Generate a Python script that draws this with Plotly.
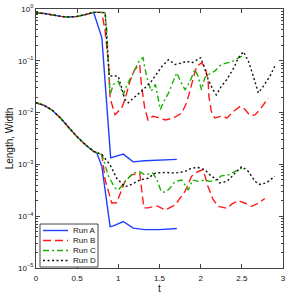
import plotly.graph_objects as go

# ---------------- data ----------------
t_common = [0, 0.1, 0.2, 0.3, 0.4, 0.5, 0.6, 0.7]
len_common = [0.84, 0.82, 0.77, 0.72, 0.70, 0.72, 0.78, 0.86]
wid_common = [1.55e-2, 1.38e-2, 1.10e-2, 7.8e-3, 5.1e-3, 3.4e-3, 2.4e-3, 1.78e-3]

# Run A
tA_len = t_common + [0.80, 0.907, 1.06, 1.18, 1.32, 1.5, 1.71]
lenA = len_common + [0.277, 1.34e-3, 1.58e-3, 1.12e-3, 1.18e-3, 1.2e-3, 1.25e-3]
tA_wid = t_common + [0.74, 0.80, 0.90, 0.94, 1.06, 1.18, 1.32, 1.5, 1.71]
widA = wid_common + [1.65e-3, 9.1e-4, 6.3e-5, 6.5e-5, 7.9e-5, 5.9e-5, 5.5e-5, 5.5e-5, 5.8e-5]

# Run B
tB_len = t_common + [0.80, 0.84, 0.88, 0.90, 0.96, 1.04, 1.08, 1.14, 1.20, 1.26, 1.28,
                     1.32, 1.36, 1.42, 1.49, 1.57, 1.67, 1.77, 1.83, 1.87, 1.91, 1.95,
                     2.01, 2.05, 2.09, 2.10, 2.13, 2.17, 2.25, 2.32, 2.40, 2.48, 2.54,
                     2.60, 2.66, 2.72, 2.78, 2.82]
lenB = len_common + [0.86, 0.37, 0.091, 0.019, 9.1e-3, 1.23e-2, 1.78e-2, 0.040, 0.068,
                     0.085, 0.035, 0.0123, 7.2e-3, 8.5e-3, 8.0e-3, 7.2e-3, 7.9e-3, 9.8e-3,
                     0.0155, 0.0275, 0.050, 0.078, 0.091, 0.078, 0.044, 0.0204, 0.0105,
                     7.9e-3, 8.5e-3, 7.9e-3, 0.0105, 0.0132, 0.0115, 8.7e-3, 9.0e-3,
                     0.0115, 0.0155, 0.019]
tB_wid = t_common + [0.80, 0.84, 0.92, 0.98, 1.08, 1.16, 1.26, 1.31, 1.36, 1.47, 1.57,
                     1.69, 1.81, 1.89, 1.97, 2.03, 2.09, 2.15, 2.21, 2.32, 2.38, 2.46,
                     2.54, 2.62, 2.70, 2.78]
widB = wid_common + [1.55e-3, 5.0e-4, 1.8e-4, 1.82e-4, 4.7e-4, 6.3e-4, 6.8e-4, 1.45e-4,
                     1.45e-4, 1.58e-4, 1.32e-4, 1.66e-4, 3.0e-4, 5.9e-4, 7.3e-4, 7.9e-4,
                     3.7e-4, 2.1e-4, 1.55e-4, 1.42e-4, 1.73e-4, 2.0e-4, 1.78e-4, 1.55e-4,
                     1.78e-4, 2.2e-4]

# Run C
tC_len = t_common + [0.80, 0.84, 0.86, 0.89, 0.90, 0.94, 1.0, 1.06, 1.10, 1.16, 1.22,
                     1.26, 1.30, 1.32, 1.36, 1.40, 1.45, 1.51, 1.55, 1.61, 1.66, 1.71,
                     1.75, 1.81, 1.87, 1.93, 1.97, 2.01, 2.05, 2.09, 2.17, 2.25, 2.32,
                     2.38, 2.42, 2.46, 2.50]
lenC = len_common + [0.86, 0.85, 0.37, 0.063, 0.022, 0.035, 0.040, 0.022, 0.033, 0.050,
                     0.075, 0.105, 0.115, 0.075, 0.040, 0.026, 0.035, 0.0115, 0.016,
                     0.024, 0.038, 0.059, 0.042, 0.0275, 0.040, 0.068, 0.050, 0.0275,
                     0.047, 0.054, 0.063, 0.085, 0.091, 0.095, 0.105, 0.115, 0.123]
tC_wid = t_common + [0.80, 0.88, 0.96, 1.0, 1.10, 1.18, 1.26, 1.32, 1.42, 1.47, 1.52,
                     1.57, 1.62, 1.69, 1.77, 1.85, 1.90, 1.97, 2.05, 2.11, 2.19, 2.25,
                     2.34, 2.42, 2.50]
widC = wid_common + [1.55e-3, 5.9e-4, 3.5e-4, 3.2e-4, 5.0e-4, 6.8e-4, 7.2e-4, 6.3e-4,
                     6.8e-4, 5.0e-4, 3.0e-4, 2.9e-4, 3.4e-4, 4.7e-4, 5.0e-4, 3.2e-4,
                     5.0e-4, 4.7e-4, 5.0e-4, 4.7e-4, 5.0e-4, 6.0e-4, 6.3e-4, 7.2e-4, 8.5e-4]

# Run D
tD_len = t_common + [0.80, 0.84, 0.86, 0.89, 0.94, 1.0, 1.04, 1.08, 1.12, 1.20, 1.30,
                     1.40, 1.51, 1.53, 1.61, 1.69, 1.77, 1.83, 1.89, 1.95, 2.00, 2.04,
                     2.09, 2.15, 2.19, 2.25, 2.32, 2.40, 2.46, 2.52, 2.58, 2.64, 2.70,
                     2.76, 2.84, 2.90]
lenD = len_common + [0.86, 0.85, 0.24, 0.050, 0.052, 0.050, 0.030, 0.0178, 0.0155, 0.020,
                     0.0275, 0.040, 0.068, 0.078, 0.105, 0.085, 0.091, 0.098, 0.091,
                     0.105, 0.115, 0.078, 0.044, 0.0275, 0.022, 0.032, 0.044, 0.072,
                     0.115, 0.15, 0.098, 0.050, 0.024, 0.032, 0.050, 0.078]
tD_wid = t_common + [0.80, 0.90, 0.98, 1.08, 1.16, 1.26, 1.36, 1.45, 1.57, 1.69, 1.81,
                     1.89, 1.97, 2.05, 2.13, 2.21, 2.23, 2.32, 2.42, 2.50, 2.58, 2.66,
                     2.72, 2.80, 2.90]
widD = wid_common + [1.55e-3, 9.8e-4, 5.4e-4, 3.7e-4, 4.1e-4, 5.0e-4, 5.4e-4, 6.8e-4,
                     7.0e-4, 6.8e-4, 7.3e-4, 8.5e-4, 8.7e-4, 7.9e-4, 5.9e-4, 5.0e-4,
                     4.4e-4, 4.7e-4, 6.8e-4, 9.1e-4, 7.3e-4, 4.7e-4, 4.1e-4, 4.4e-4, 5.9e-4]

run_names = ["Run A", "Run B", "Run C", "Run D"]
x_ticks = [0, 0.5, 1, 1.5, 2, 2.5, 3]
x_ticktext = ["0", "0.5", "1", "1.5", "2", "2.5", "3"]
y_exponents = [0, -1, -2, -3, -4, -5]

# ---------------- styles ----------------
styles = [
    dict(color="#1f3fff", dash="solid"),
    dict(color="#ff1a1a", dash="8px,4px"),
    dict(color="#18b000", dash="6px,3px,2px,3px"),
    dict(color="#111111", dash="2px,2.5px"),
]
LW = 1.4

runs = [
    (tA_len, lenA, tA_wid, widA),
    (tB_len, lenB, tB_wid, widB),
    (tC_len, lenC, tC_wid, widC),
    (tD_len, lenD, tD_wid, widD),
]

fig = go.Figure()
for name, st, (tl, lv, tw, wv) in zip(run_names, styles, runs):
    fig.add_trace(go.Scatter(x=tl, y=lv, mode="lines", name=name, legendgroup=name,
                             showlegend=False,
                             line=dict(color=st["color"], dash=st["dash"], width=LW)))
    fig.add_trace(go.Scatter(x=tw, y=wv, mode="lines", name=name, legendgroup=name,
                             showlegend=False,
                             line=dict(color=st["color"], dash=st["dash"], width=LW)))

font_family = "Liberation Sans, Arial, sans-serif"
axis_color = "#444444"
text_color = "#111111"

# ---------------- compact legend (MATLAB style box) ----------------
# plot area in px: x 36..283, y 9..268
def px_x(p):
    return (p - 36) / 247.0

def px_y(p):
    return (268 - p) / 259.0

shapes = [dict(type="rect", xref="paper", yref="paper",
               x0=px_x(40), x1=px_x(98), y0=px_y(267), y1=px_y(224),
               line=dict(color=axis_color, width=1), fillcolor="white", layer="above")]
annotations = []
row_px = [230.5, 240.5, 250.5, 260.5]
for name, st, ry in zip(run_names, styles, row_px):
    shapes.append(dict(type="line", xref="paper", yref="paper",
                       x0=px_x(43), x1=px_x(68), y0=px_y(ry), y1=px_y(ry),
                       line=dict(color=st["color"], dash=st["dash"], width=LW),
                       layer="above"))
    annotations.append(dict(xref="paper", yref="paper", x=px_x(70.5), y=px_y(ry),
                            xanchor="left", yanchor="middle", text=name, showarrow=False,
                            font=dict(size=8, color=text_color, family=font_family)))

y_tickvals = [10.0 ** e for e in y_exponents]
y_ticktext = ["10<sup>%s</sup>" % (str(e).replace("-", "\u2212")) for e in y_exponents]
minor_vals = [m * 10.0 ** e for e in range(-5, 0) for m in range(2, 10)]

fig.update_layout(
    width=290, height=297,
    margin=dict(l=36, r=7, t=9, b=29),
    paper_bgcolor="white", plot_bgcolor="white",
    font=dict(family=font_family, size=8, color=text_color),
    showlegend=False,
    shapes=shapes,
    annotations=annotations,
)
fig.update_xaxes(
    range=[0, 3], tickvals=x_ticks, ticktext=x_ticktext,
    showgrid=False, zeroline=False, showline=True, linecolor=axis_color, linewidth=1,
    mirror="ticks", ticks="inside", ticklen=4, tickcolor=axis_color,
    ticklabelstandoff=2, ticklabeloverflow="allow",
    title=dict(text="t", font=dict(size=10), standoff=2),
    automargin=False,
)
fig.update_yaxes(
    type="log", range=[-5, 0], tickvals=y_tickvals, ticktext=y_ticktext,
    showgrid=False, zeroline=False, showline=True, linecolor=axis_color, linewidth=1,
    mirror="ticks", ticks="inside", ticklen=4, tickcolor=axis_color,
    ticklabeloverflow="allow",
    minor=dict(tickvals=minor_vals, ticks="inside", ticklen=2, tickcolor=axis_color),
    title=dict(text="Length, Width", font=dict(size=10), standoff=2),
    automargin=False,
)

fig.write_html(
    "out.html",
    config={"displayModeBar": False, "staticPlot": True},
    post_script="document.body.style.margin='0px';document.body.style.padding='0px';",
)
